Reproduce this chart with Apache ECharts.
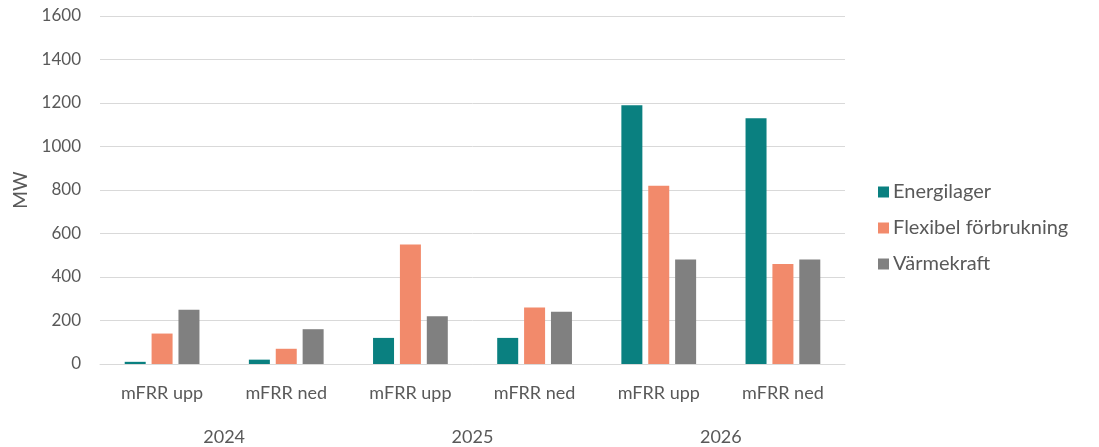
<!DOCTYPE html>
<html>
<head>
<meta charset="utf-8">
<script src="https://cdn.jsdelivr.net/npm/echarts@6/dist/echarts.min.js"></script>
<style>
  html, body { margin: 0; padding: 0; background: #fff; }
  #chart { width: 1099px; height: 447px; }
</style>
</head>
<body>
<div id="chart"></div>
<script>
// Upp/ned-regleringsprodukter per år
const categories = ['mFRR upp', 'mFRR ned', 'mFRR upp', 'mFRR ned', 'mFRR upp', 'mFRR ned'];
const years = ['2024', '2025', '2026'];

// MW per resurstyp
const energilager = [10, 20, 120, 120, 1190, 1130];
const flexibelForbrukning = [140, 70, 550, 260, 820, 460];
const varmekraft = [250, 160, 220, 240, 480, 480];

const yMin = 0, yMax = 1600, yStep = 200;

const font = 'Lato, "Open Sans", sans-serif';
const textColor = '#595959';

const chart = echarts.init(document.getElementById('chart'));

chart.setOption({
  animation: false,
  textStyle: { fontFamily: font },
  grid: { left: 100, right: 254, top: 16, bottom: 83, containLabel: false },
  legend: {
    orient: 'vertical',
    left: 873,
    top: 177,
    itemWidth: 11,
    itemHeight: 11,
    itemGap: 16,
    icon: 'rect',
    textStyle: { fontFamily: font, fontSize: 20, color: textColor, padding: [0, 0, 0, -1] },
    data: ['Energilager', 'Flexibel förbrukning', 'Värmekraft']
  },
  xAxis: [
    {
      type: 'category',
      data: categories,
      axisLine: { lineStyle: { color: '#d9d9d9', width: 1 } },
      axisTick: { show: false },
      axisLabel: { color: textColor, fontSize: 18, fontFamily: font, margin: 20, interval: 0 }
    },
    {
      type: 'category',
      data: years,
      position: 'bottom',
      gridIndex: 0,
      axisLine: { show: false },
      axisTick: { show: false },
      axisLabel: { color: textColor, fontSize: 18, fontFamily: font, margin: 64, interval: 0 },
      splitLine: { show: false }
    }
  ],
  yAxis: {
    type: 'value',
    min: yMin,
    max: yMax,
    interval: yStep,
    name: 'MW',
    nameLocation: 'middle',
    nameGap: 58,
    nameRotate: 90,
    nameTextStyle: { color: textColor, fontSize: 19, fontFamily: font },
    axisLine: { show: false },
    axisTick: { show: false },
    axisLabel: {
      color: textColor, fontSize: 17, fontFamily: font, margin: 19,
      formatter: v => String(v)
    },
    splitLine: { lineStyle: { color: '#d9d9d9', width: 1 } }
  },
  series: [
    {
      name: 'Energilager',
      type: 'bar',
      xAxisIndex: 0,
      data: energilager,
      barWidth: 21,
      barGap: '28%',
      itemStyle: { color: '#0a8080' }
    },
    {
      name: 'Flexibel förbrukning',
      type: 'bar',
      xAxisIndex: 0,
      data: flexibelForbrukning,
      barWidth: 21,
      barGap: '28%',
      itemStyle: { color: '#f28a6b' }
    },
    {
      name: 'Värmekraft',
      type: 'bar',
      xAxisIndex: 0,
      data: varmekraft,
      barWidth: 21,
      barGap: '28%',
      itemStyle: { color: '#808080' }
    }
  ]
});
</script>
</body>
</html>
